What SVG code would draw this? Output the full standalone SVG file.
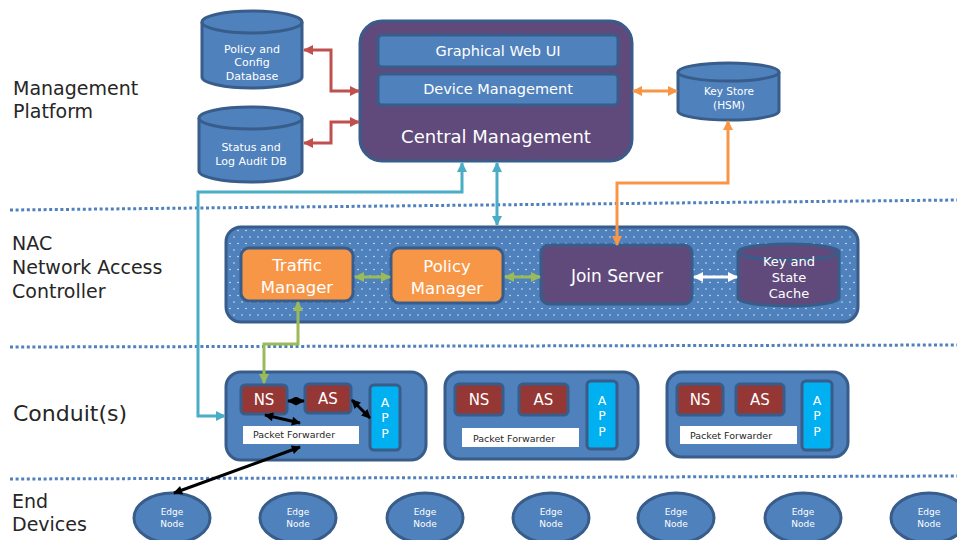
<svg xmlns="http://www.w3.org/2000/svg" width="957" height="540" viewBox="0 0 957 540">
<style>
text{font-family:"DejaVu Sans","Liberation Sans",sans-serif;}
.lbl{font-size:19px;fill:#262626;}
.w{fill:#ffffff;text-anchor:middle;}
.blue{fill:#4f81bd;stroke:#385d8a;stroke-width:3;}
.purple{fill:#604a7b;stroke:#385d8a;stroke-width:3;}
.orange{fill:#f79646;stroke:#385d8a;stroke-width:3;}
.red{fill:#953735;stroke:#385d8a;stroke-width:3;}
.app{fill:#00b0f0;stroke:#385d8a;stroke-width:3;}
.pf{fill:#ffffff;}
.pft{font-size:9.5px;fill:#262626;}
.dot{fill:none;stroke:#4f81bd;stroke-width:3;stroke-dasharray:3 2.6;}
.c{fill:none;stroke-width:3;}
</style>
<defs>
<pattern id="dots" width="8" height="13" patternUnits="userSpaceOnUse">
<circle cx="2" cy="3" r="0.8" fill="#ffffff" fill-opacity="0.8"/>
<circle cx="6" cy="9.5" r="0.8" fill="#ffffff" fill-opacity="0.8"/>
</pattern>
<marker id="mr" viewBox="0 0 10 10" refX="9" refY="5" markerWidth="11" markerHeight="10" markerUnits="userSpaceOnUse" orient="auto-start-reverse"><path d="M0,0 L10,5 L0,10 z" fill="#c0504d"/></marker>
<marker id="mo" viewBox="0 0 10 10" refX="9" refY="5" markerWidth="11" markerHeight="10" markerUnits="userSpaceOnUse" orient="auto-start-reverse"><path d="M0,0 L10,5 L0,10 z" fill="#f79646"/></marker>
<marker id="mc" viewBox="0 0 10 10" refX="9" refY="5" markerWidth="11" markerHeight="10" markerUnits="userSpaceOnUse" orient="auto-start-reverse"><path d="M0,0 L10,5 L0,10 z" fill="#4bacc6"/></marker>
<marker id="mg" viewBox="0 0 10 10" refX="9" refY="5" markerWidth="10" markerHeight="10" markerUnits="userSpaceOnUse" orient="auto-start-reverse"><path d="M0,0 L10,5 L0,10 z" fill="#9bbb59"/></marker>
<marker id="mw" viewBox="0 0 10 10" refX="9" refY="5" markerWidth="10" markerHeight="10" markerUnits="userSpaceOnUse" orient="auto-start-reverse"><path d="M0,0 L10,5 L0,10 z" fill="#ffffff"/></marker>
<marker id="mk" viewBox="0 0 10 10" refX="9" refY="5" markerWidth="10" markerHeight="9" markerUnits="userSpaceOnUse" orient="auto-start-reverse"><path d="M0,0 L10,5 L0,10 z" fill="#000000"/></marker>
</defs>
<rect width="957" height="540" fill="#ffffff"/>

<g id="separators">
<line class="dot" x1="10" y1="210" x2="957" y2="200"/>
<line class="dot" x1="10" y1="347" x2="957" y2="345"/>
<line class="dot" x1="10" y1="479" x2="957" y2="476"/>
</g>

<g id="layer-labels">
<text class="lbl" x="13" y="95">Management</text>
<text class="lbl" x="13" y="118">Platform</text>
<text class="lbl" x="12" y="250">NAC</text>
<text class="lbl" x="12" y="274">Network Access</text>
<text class="lbl" x="12" y="298">Controller</text>
<text class="lbl" x="13" y="421" style="font-size:22px">Conduit(s)</text>
<text class="lbl" x="12" y="508">End</text>
<text class="lbl" x="12" y="531">Devices</text>
</g>

<g id="policy-db">
<path class="blue" d="M202,22 V77 A50,11 0 0 0 302,77 V22"/>
<ellipse class="blue" cx="252" cy="22" rx="50" ry="11"/>
<text class="w" x="252" y="53" font-size="11">Policy and</text>
<text class="w" x="252" y="66" font-size="11">Config</text>
<text class="w" x="252" y="80" font-size="11">Database</text>
</g>

<g id="status-db">
<path class="blue" d="M199,118 V171 A51.5,11 0 0 0 302,171 V118"/>
<ellipse class="blue" cx="250.5" cy="118" rx="51.5" ry="11"/>
<text class="w" x="251" y="151" font-size="11">Status and</text>
<text class="w" x="251" y="165" font-size="11">Log Audit DB</text>
</g>

<g id="central-management">
<rect class="purple" x="360" y="21" width="272" height="140" rx="22"/>
<rect class="blue" x="378" y="35" width="240" height="32" rx="4"/>
<text class="w" x="498" y="56" font-size="14.5">Graphical Web UI</text>
<rect class="blue" x="378" y="74" width="240" height="31" rx="4"/>
<text class="w" x="498" y="94" font-size="14.5">Device Management</text>
<text class="w" x="496" y="143" font-size="18">Central Management</text>
</g>

<g id="key-store">
<path class="blue" d="M678,72 V111 A50.5,9 0 0 0 779,111 V72"/>
<ellipse class="blue" cx="728.5" cy="72" rx="50.5" ry="9"/>
<text class="w" x="729" y="95" font-size="10.5">Key Store</text>
<text class="w" x="729" y="109" font-size="10.5">(HSM)</text>
</g>

<g id="nac">
<rect class="blue" x="226" y="227" width="632" height="95" rx="15"/>
<rect x="228" y="229" width="628" height="91" rx="13" fill="url(#dots)"/>
</g>

<g id="traffic-manager">
<rect class="orange" x="241" y="248" width="112" height="53" rx="8"/>
<text class="w" x="297" y="271" font-size="16.5">Traffic</text>
<text class="w" x="297" y="293" font-size="16.5">Manager</text>
</g>

<g id="policy-manager">
<rect class="orange" x="391" y="248" width="112" height="55" rx="8"/>
<text class="w" x="447" y="272" font-size="16.5">Policy</text>
<text class="w" x="447" y="294" font-size="16.5">Manager</text>
</g>

<g id="join-server">
<rect class="purple" x="541" y="245" width="151" height="59" rx="8"/>
<text class="w" x="617" y="282" font-size="17">Join Server</text>
</g>

<g id="key-state-cache">
<path class="purple" d="M738,252 V298 A50.5,8 0 0 0 839,298 V252"/>
<ellipse class="purple" cx="788.5" cy="252" rx="50.5" ry="8"/>
<text class="w" x="789" y="266" font-size="13">Key and</text>
<text class="w" x="789" y="282" font-size="13">State</text>
<text class="w" x="789" y="298" font-size="13">Cache</text>
</g>

<g id="conduit-1">
<rect class="blue" x="226" y="372" width="200" height="88" rx="15"/>
<rect class="red" x="241" y="385" width="46" height="29" rx="4"/>
<text class="w" x="264" y="405" font-size="15">NS</text>
<rect class="red" x="305" y="384" width="46" height="29" rx="4"/>
<text class="w" x="328" y="404" font-size="15">AS</text>
<rect class="app" x="370" y="385" width="30" height="65" rx="4"/>
<text class="w" x="385" y="407" font-size="12.5">A</text>
<text class="w" x="385" y="422" font-size="12.5">P</text>
<text class="w" x="385" y="438" font-size="12.5">P</text>
<rect class="pf" x="243" y="426" width="116" height="18"/>
<text class="pft" x="253" y="438">Packet Forwarder</text>
</g>

<g id="conduit-2">
<rect class="blue" x="445" y="372" width="193" height="87" rx="15"/>
<rect class="red" x="455" y="384" width="48" height="31" rx="4"/>
<text class="w" x="479" y="405" font-size="15">NS</text>
<rect class="red" x="519" y="384" width="49" height="31" rx="4"/>
<text class="w" x="543.5" y="405" font-size="15">AS</text>
<rect class="app" x="587" y="381" width="30" height="68" rx="4"/>
<text class="w" x="602" y="405" font-size="12.5">A</text>
<text class="w" x="602" y="420" font-size="12.5">P</text>
<text class="w" x="602" y="436" font-size="12.5">P</text>
<rect class="pf" x="462" y="428" width="117" height="19"/>
<text class="pft" x="473" y="442">Packet Forwarder</text>
</g>

<g id="conduit-3">
<rect class="blue" x="667" y="372" width="181" height="85" rx="15"/>
<rect class="red" x="677" y="384" width="46" height="31" rx="4"/>
<text class="w" x="700" y="405" font-size="15">NS</text>
<rect class="red" x="736" y="384" width="48" height="31" rx="4"/>
<text class="w" x="760" y="405" font-size="15">AS</text>
<rect class="app" x="802" y="381" width="30" height="69" rx="4"/>
<text class="w" x="817" y="405" font-size="12.5">A</text>
<text class="w" x="817" y="420" font-size="12.5">P</text>
<text class="w" x="817" y="436" font-size="12.5">P</text>
<rect class="pf" x="680" y="426" width="117" height="18"/>
<text class="pft" x="690" y="439">Packet Forwarder</text>
</g>

<g id="edge-nodes">
<g id="edge-1"><ellipse class="blue" cx="172" cy="518" rx="38" ry="25"/><text class="w" x="172" y="515" font-size="9">Edge</text><text class="w" x="172" y="527" font-size="9">Node</text></g>
<g id="edge-2"><ellipse class="blue" cx="298" cy="518" rx="38" ry="25"/><text class="w" x="298" y="515" font-size="9">Edge</text><text class="w" x="298" y="527" font-size="9">Node</text></g>
<g id="edge-3"><ellipse class="blue" cx="425" cy="518" rx="38" ry="25"/><text class="w" x="425" y="515" font-size="9">Edge</text><text class="w" x="425" y="527" font-size="9">Node</text></g>
<g id="edge-4"><ellipse class="blue" cx="551" cy="518" rx="38" ry="25"/><text class="w" x="551" y="515" font-size="9">Edge</text><text class="w" x="551" y="527" font-size="9">Node</text></g>
<g id="edge-5"><ellipse class="blue" cx="676" cy="518" rx="38" ry="25"/><text class="w" x="676" y="515" font-size="9">Edge</text><text class="w" x="676" y="527" font-size="9">Node</text></g>
<g id="edge-6"><ellipse class="blue" cx="803" cy="518" rx="38" ry="25"/><text class="w" x="803" y="515" font-size="9">Edge</text><text class="w" x="803" y="527" font-size="9">Node</text></g>
<g id="edge-7"><ellipse class="blue" cx="929" cy="518" rx="38" ry="25"/><text class="w" x="929" y="515" font-size="9">Edge</text><text class="w" x="929" y="527" font-size="9">Node</text></g>
</g>

<g id="connectors">
<path class="c" stroke="#c0504d" d="M304,50 H331 V91 H359" marker-start="url(#mr)" marker-end="url(#mr)"/>
<path class="c" stroke="#c0504d" d="M359,122 H331 V143 H304" marker-start="url(#mr)" marker-end="url(#mr)"/>
<path class="c" stroke="#f79646" d="M633,91 H677" marker-start="url(#mo)" marker-end="url(#mo)"/>
<path class="c" stroke="#f79646" d="M728,121 V183 H617 V245" marker-start="url(#mo)" marker-end="url(#mo)"/>
<path class="c" stroke="#4bacc6" d="M225,416 H198 V192 H462 V163" marker-start="url(#mc)" marker-end="url(#mc)"/>
<path class="c" stroke="#4bacc6" d="M497,163 V225" marker-start="url(#mc)" marker-end="url(#mc)"/>
<path class="c" stroke="#9bbb59" d="M355,277 H390" marker-start="url(#mg)" marker-end="url(#mg)"/>
<path class="c" stroke="#9bbb59" d="M505,277 H540" marker-start="url(#mg)" marker-end="url(#mg)"/>
<path class="c" stroke="#9bbb59" d="M298,302 V344 H264 V383" marker-start="url(#mg)" marker-end="url(#mg)"/>
<path class="c" stroke="#ffffff" stroke-width="4" d="M694,277 H737" marker-start="url(#mw)" marker-end="url(#mw)"/>
<path class="c" stroke="#000000" stroke-width="2.5" d="M288,401 H304" marker-start="url(#mk)" marker-end="url(#mk)"/>
<path class="c" stroke="#000000" stroke-width="2.5" d="M352,400 L370,418" marker-start="url(#mk)" marker-end="url(#mk)"/>
<path class="c" stroke="#000000" stroke-width="2.5" d="M265,415 L300,423" marker-start="url(#mk)" marker-end="url(#mk)"/>
<path class="c" stroke="#000000" stroke-width="2.5" d="M300,447 L174,493" marker-start="url(#mk)" marker-end="url(#mk)"/>
</g>
</svg>
